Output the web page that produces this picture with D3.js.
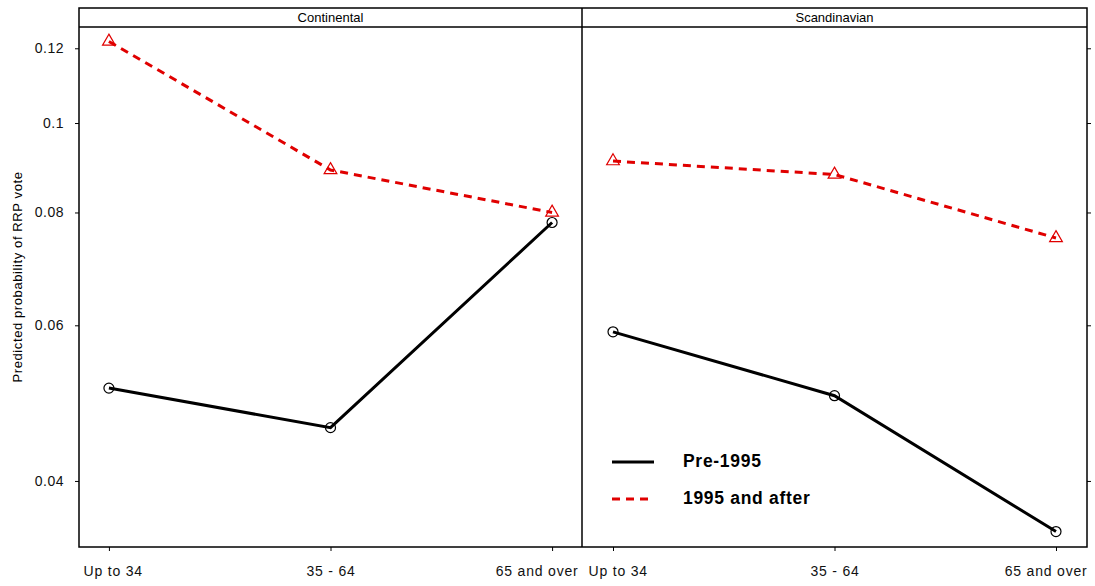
<!DOCTYPE html>
<html>
<head>
<meta charset="utf-8">
<script src="https://cdn.jsdelivr.net/npm/d3@7"></script>
<style>
body { margin: 0; background: #fff; }
svg { font-family: "Liberation Sans", Arial, sans-serif; }
</style>
</head>
<body>
<svg width="1095" height="586"></svg>
<script>
// data
const ageGroups = ["Up to 34", "35 - 64", "65 and over"];
const panels = ["Continental", "Scandinavian"];
const continentalPre = [0.051, 0.046, 0.078];
const continentalPost = [0.122, 0.089, 0.080];
const scandinavianPre = [0.059, 0.050, 0.035];
const scandinavianPost = [0.091, 0.088, 0.075];
const yTicks = [0.04, 0.06, 0.08, 0.1, 0.12];
const yTickLabels = ["0.04", "0.06", "0.08", "0.1", "0.12"];
const seriesNames = ["Pre-1995", "1995 and after"];

let svg = d3.select("svg");

let boxLeft = 79, boxRight = 1087, boxTop = 8, stripH = 19, boxBottom = 547;
let mid = 582;
let panelTop = boxTop + stripH;

// probabilities shown on logit scale
let logit = p => Math.log(p / (1 - p));
let y = d3.scaleLinear()
    .domain([logit(0.0336), logit(0.1263)])
    .range([boxBottom, panelTop]);

let panelX = [
    d3.scalePoint().domain(ageGroups).range([boxLeft, mid]).padding(0.135),
    d3.scalePoint().domain(ageGroups).range([mid, boxRight]).padding(0.14)
];
let panelBounds = [[boxLeft + 4, mid - 4], [mid + 6, boxRight]];

let panelData = [
    [continentalPre, continentalPost],
    [scandinavianPre, scandinavianPost]
];

let line = (x, vals) => d3.line()
    .x((d, i) => x(ageGroups[i]))
    .y(d => y(logit(d)))(vals);

// axes
let yLeft = d3.axisLeft(y)
    .tickValues(yTicks.map(logit))
    .tickFormat((d, i) => yTickLabels[i])
    .tickSize(4).tickPadding(11);
let yRight = d3.axisRight(y)
    .tickValues(yTicks.map(logit))
    .tickFormat("")
    .tickSize(4);

let gl = svg.append("g").attr("transform", `translate(${boxLeft},0)`).call(yLeft);
gl.select(".domain").remove();
gl.selectAll("text").style("font-size", "14px").style("letter-spacing", "0.5px").attr("fill", "#111");
let gr = svg.append("g").attr("transform", `translate(${boxRight},0)`).call(yRight);
gr.select(".domain").remove();

panelX.forEach((x, p) => {
    let gx = svg.append("g").attr("transform", `translate(0,${boxBottom})`)
        .call(d3.axisBottom(x).tickSize(4).tickPadding(15));
    gx.select(".domain").remove();
    let [lo, hi] = panelBounds[p];
    gx.selectAll("text")
        .style("font-size", "14px")
        .style("letter-spacing", "0.8px")
        .attr("fill", "#111")
        .each(function(d) {
            // keep edge labels inside their panel
            let w = this.getBBox().width;
            let c = x(d), shift = 0;
            if (c - w / 2 < lo) shift = lo - (c - w / 2);
            if (c + w / 2 > hi) shift = hi - (c + w / 2);
            d3.select(this).attr("x", shift);
        });
});

svg.selectAll(".tick line").attr("stroke", "#000");

// series
panelX.forEach((x, p) => {
    let [pre, post] = panelData[p];
    let g = svg.append("g");
    g.append("path")
        .attr("d", line(x, post))
        .attr("fill", "none")
        .attr("stroke", "#e00000")
        .attr("stroke-width", 3)
        .attr("stroke-dasharray", "8,6");
    g.append("path")
        .attr("d", line(x, pre))
        .attr("fill", "none")
        .attr("stroke", "#000")
        .attr("stroke-width", 3);
    g.selectAll(".tri").data(post).enter().append("path")
        .attr("d", d3.symbol(d3.symbolTriangle, 70)())
        .attr("transform", (d, i) => `translate(${x(ageGroups[i])},${y(logit(d))})`)
        .attr("fill", "none")
        .attr("stroke", "#e00000")
        .attr("stroke-width", 1.2);
    g.selectAll(".circ").data(pre).enter().append("circle")
        .attr("cx", (d, i) => x(ageGroups[i]))
        .attr("cy", d => y(logit(d)))
        .attr("r", 5)
        .attr("fill", "none")
        .attr("stroke", "#000")
        .attr("stroke-width", 1.2);
});

// frame and strips
svg.append("rect")
    .attr("x", boxLeft).attr("y", boxTop)
    .attr("width", boxRight - boxLeft).attr("height", boxBottom - boxTop)
    .attr("fill", "none").attr("stroke", "#000").attr("stroke-width", 1.5);
svg.append("line")
    .attr("x1", boxLeft).attr("x2", boxRight).attr("y1", panelTop).attr("y2", panelTop)
    .attr("stroke", "#000").attr("stroke-width", 1.5);
svg.append("line")
    .attr("x1", mid).attr("x2", mid).attr("y1", boxTop).attr("y2", boxBottom)
    .attr("stroke", "#000").attr("stroke-width", 1.5);

svg.selectAll(".strip").data(panels).enter().append("text")
    .attr("x", (d, i) => i == 0 ? (boxLeft + mid) / 2 : (mid + boxRight) / 2)
    .attr("y", boxTop + 14)
    .attr("text-anchor", "middle")
    .style("font-size", "13px")
    .text(d => d);

svg.append("text")
    .attr("transform", `translate(22,277) rotate(-90)`)
    .attr("text-anchor", "middle")
    .style("font-size", "13px")
    .style("letter-spacing", "0.6px")
    .text("Predicted probability of RRP  vote");

// legend
let legend = svg.append("g");
let legY = [462, 499];
legend.selectAll("line").data(seriesNames).enter().append("line")
    .attr("x1", 612).attr("x2", 654)
    .attr("y1", (d, i) => legY[i]).attr("y2", (d, i) => legY[i])
    .attr("stroke", (d, i) => i == 0 ? "#000" : "#e00000")
    .attr("stroke-width", 3)
    .attr("stroke-dasharray", (d, i) => i == 0 ? null : "8,6");
legend.selectAll("text").data(seriesNames).enter().append("text")
    .attr("x", 683)
    .attr("y", (d, i) => legY[i] + 5)
    .style("font-size", "17.5px")
    .style("font-weight", "bold")
    .style("letter-spacing", "0.7px")
    .text(d => d);
</script>
</body>
</html>
